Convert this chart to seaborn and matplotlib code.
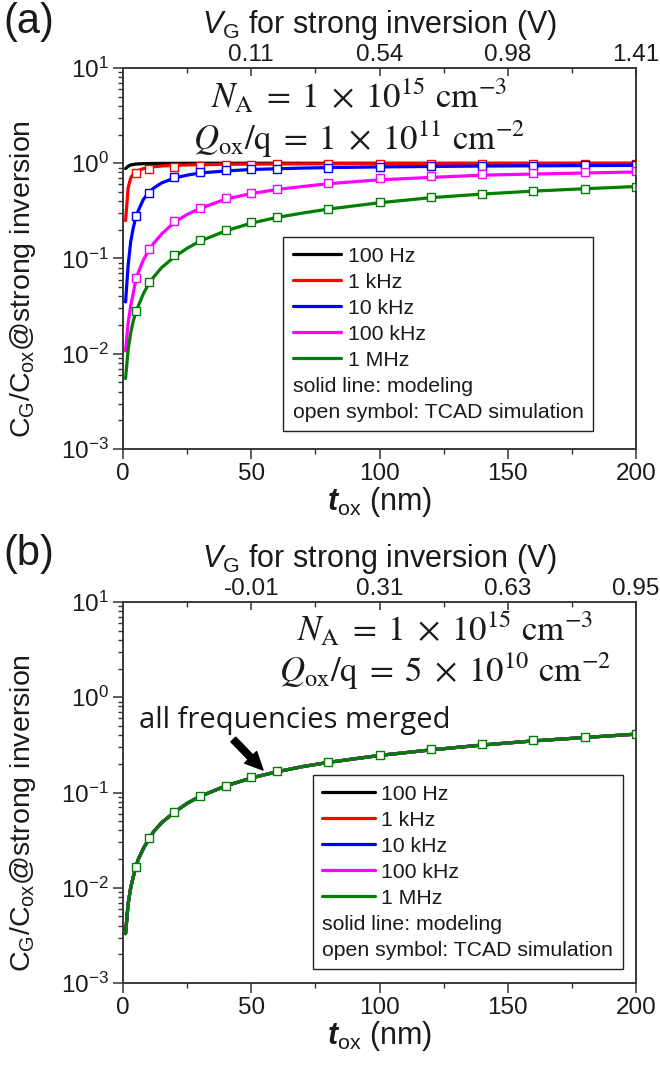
import numpy as np
import pandas as pd
import matplotlib
matplotlib.use("Agg")
import matplotlib.pyplot as plt
import seaborn as sns
from matplotlib.lines import Line2D
from matplotlib.ticker import FixedLocator, LogLocator, NullFormatter

sns.set_theme(style="ticks")
plt.rcParams.update({
    "font.family": ["Liberation Sans", "DejaVu Sans"],
    "mathtext.fontset": "custom",
    "mathtext.rm": "Liberation Sans",
    "mathtext.it": "Liberation Sans:italic",
    "mathtext.bf": "Liberation Sans:bold",
    "axes.unicode_minus": False,
})
try:
    plt.rcParams["mathtext.bfit"] = "Liberation Sans:italic:bold"
except Exception:
    pass

# ---------------- data ----------------
freq_labels = ["100 Hz", "1 kHz", "10 kHz", "100 kHz", "1 MHz"]
colors = ["#000000", "#ff0000", "#0000ff", "#ff00ff", "#008000"]

t_line = [1, 2, 3, 4, 5, 6, 8, 10, 12, 15, 20, 25, 30, 40, 50, 60, 70, 80,
          100, 120, 140, 160, 180, 200]
t_sim = [5, 10, 20, 30, 40, 50, 60, 80, 100, 120, 140, 160, 180, 200]

# panel (a): Qox/q = 1e11 cm^-2
a_line_100Hz = [0.88, 0.93, 0.96, 0.97, 0.98, 0.985, 0.99, 0.993, 0.995, 0.997, 0.998, 0.999, 1.0,
                1.0, 1.0, 1.0, 1.0, 1.0, 1.0, 1.0, 1.0, 1.0, 1.0, 1.0]
a_line_1kHz = [0.25, 0.55, 0.70, 0.77, 0.81, 0.84, 0.88, 0.90, 0.92, 0.935, 0.95, 0.96, 0.965,
               0.975, 0.98, 0.983, 0.985, 0.987, 0.99, 0.99, 0.992, 0.993, 0.994, 0.995]
a_line_10kHz = [0.035, 0.085, 0.15, 0.21, 0.27, 0.32, 0.42, 0.49, 0.55, 0.62, 0.70, 0.75, 0.79,
                0.83, 0.86, 0.875, 0.89, 0.90, 0.915, 0.925, 0.935, 0.94, 0.945, 0.95]
a_line_100kHz = [0.0107, 0.021, 0.032, 0.043, 0.060, 0.072, 0.097, 0.122, 0.145, 0.18, 0.24, 0.29,
                 0.335, 0.42, 0.48, 0.53, 0.57, 0.61, 0.67, 0.71, 0.75, 0.77, 0.79, 0.81]
a_line_1MHz = [0.0055, 0.011, 0.0165, 0.022, 0.027, 0.032, 0.043, 0.054, 0.064, 0.08, 0.104, 0.128,
               0.152, 0.195, 0.235, 0.27, 0.30, 0.33, 0.385, 0.435, 0.475, 0.51, 0.54, 0.57]

a_sim_1kHz = [0.79, 0.86, 0.91, 0.94, 0.96, 0.97, 0.98, 0.985, 0.99, 0.99, 0.99, 0.99, 0.99, 0.99]
a_sim_10kHz = [0.28, 0.49, 0.72, 0.80, 0.84, 0.86, 0.87, 0.90, 0.92, 0.93, 0.94, 0.945, 0.95, 0.95]
a_sim_100kHz = [0.063, 0.127, 0.25, 0.34, 0.43, 0.49, 0.54, 0.62, 0.70, 0.73, 0.77, 0.79, 0.80, 0.82]
a_sim_1MHz = [0.028, 0.057, 0.108, 0.158, 0.198, 0.24, 0.27, 0.33, 0.39, 0.44, 0.48, 0.51, 0.54, 0.57]

# panel (b): Qox/q = 5e10 cm^-2 (all frequencies merged)
b_line_all = [0.0033, 0.0068, 0.0100, 0.013, 0.0165, 0.020, 0.026, 0.032, 0.039, 0.048, 0.062,
              0.077, 0.091, 0.117, 0.142, 0.165, 0.187, 0.207, 0.245, 0.28, 0.315, 0.348,
              0.378, 0.41]
b_sim_1MHz = [0.0165, 0.033, 0.063, 0.091, 0.117, 0.145, 0.168, 0.21, 0.25, 0.285, 0.32, 0.355,
              0.38, 0.41]

x_major = [0, 50, 100, 150, 200]
x_minor = [25, 75, 125, 175]
top_ticks = [50, 100, 150, 200]
a_top_labels = ["0.11", "0.54", "0.98", "1.41"]
b_top_labels = ["-0.01", "0.31", "0.63", "0.95"]

a_lines = [a_line_100Hz, a_line_1kHz, a_line_10kHz, a_line_100kHz, a_line_1MHz]
a_sims = [None, a_sim_1kHz, a_sim_10kHz, a_sim_100kHz, a_sim_1MHz]
b_lines = [b_line_all] * 5
b_sims = [None, None, None, None, b_sim_1MHz]

# ---------------- figure ----------------
fig = plt.figure(figsize=(6.6, 10.7), dpi=100)
W, H = 660, 1070
def ax_rect(l, t, r, b):
    return [l / W, 1 - b / H, (r - l) / W, (b - t) / H]

ax_a = fig.add_axes(ax_rect(123, 68, 636, 449))
ax_b = fig.add_axes(ax_rect(123, 602, 636, 983))

spine_c = "#333333"
txt_c = "#1a1a1a"
LW = 2.3
TICK_FS = 17.5

def draw(ax, lines, sims, top_labels, leg_anchor, handlelen, htpad):
    z = 3
    for lab, c, yl, ys in zip(freq_labels, colors, lines, sims):
        df = pd.DataFrame({"t": t_line, "v": yl})
        sns.lineplot(data=df, x="t", y="v", ax=ax, color=c, lw=LW, zorder=z,
                     estimator=None, sort=False, legend=False)
        if ys is not None:
            ds = pd.DataFrame({"t": t_sim, "v": ys})
            sns.scatterplot(data=ds, x="t", y="v", ax=ax, marker="s", s=32,
                            facecolor="white", edgecolor=c, linewidth=1.0,
                            zorder=z + 0.5, legend=False)
        z += 1
    ax.set_yscale("log")
    ax.set_xlim(0, 200)
    ax.set_ylim(1e-3, 1e1)
    ax.xaxis.set_major_locator(FixedLocator(x_major))
    ax.xaxis.set_minor_locator(FixedLocator(x_minor))
    ax.yaxis.set_major_locator(LogLocator(base=10, numticks=10))
    ax.yaxis.set_minor_locator(LogLocator(base=10, subs=np.arange(2, 10), numticks=20))
    ax.yaxis.set_minor_formatter(NullFormatter())
    ax.tick_params(axis="both", which="major", direction="out", length=7, width=1.1,
                   labelsize=TICK_FS, pad=3, colors=spine_c, labelcolor=txt_c)
    ax.tick_params(axis="both", which="minor", direction="out", length=3.5, width=1.0,
                   colors=spine_c)
    for sp in ax.spines.values():
        sp.set_color(spine_c)
        sp.set_linewidth(1.1)
    ax.set_xlabel(r"$\mathbfit{t}_{\mathrm{ox}}$ (nm)", fontsize=22, color=txt_c, labelpad=0)
    ax.set_ylabel(r"C$_{\mathrm{G}}$/C$_{\mathrm{ox}}$@strong inversion", fontsize=20.5,
                  color=txt_c)
    ax.yaxis.set_label_coords(-0.165, 0.445)

    top = ax.twiny()
    top.set_xlim(ax.get_xlim())
    top.xaxis.set_major_locator(FixedLocator(top_ticks))
    top.xaxis.set_minor_locator(FixedLocator(x_minor))
    top.set_xticklabels(top_labels)
    top.tick_params(axis="x", which="major", direction="in", length=6, width=1.1,
                    labelsize=TICK_FS, pad=1.5, colors=spine_c, labelcolor=txt_c)
    top.tick_params(axis="x", which="minor", direction="in", length=3.5, width=1.0,
                    colors=spine_c)
    for sp in top.spines.values():
        sp.set_color(spine_c)
        sp.set_linewidth(1.1)
    top.set_xlabel(r"$V_{\mathrm{G}}$ for strong inversion (V)", fontsize=22,
                   color=txt_c, labelpad=8)

    handles = [Line2D([], [], color=c, lw=LW) for c in colors]
    handles += [Line2D([], [], color="none"), Line2D([], [], color="none")]
    labels = freq_labels + ["solid line: modeling", "open symbol: TCAD simulation"]
    leg = ax.legend(handles, labels, loc="upper left", bbox_to_anchor=leg_anchor,
                    borderaxespad=0, fontsize=15.3, frameon=True, fancybox=False,
                    edgecolor="#222222", framealpha=1, handlelength=handlelen,
                    handletextpad=htpad, labelspacing=0.33, borderpad=0.45)
    leg.get_frame().set_linewidth(1.0)
    for t in leg.get_texts():
        t.set_color(txt_c)
    # text-only entries start at the handle column
    col = leg._legend_handle_box.get_children()[0]
    for hp in col.get_children()[5:]:
        hp.get_children()[0].width = 0
        hp.sep = 0
    leg.set_zorder(20)
    return top

draw(ax_a, a_lines, a_sims, a_top_labels, (0.312, 0.556), 2.3, 0.3)
draw(ax_b, b_lines, b_sims, b_top_labels, (0.370, 0.546), 2.5, 0.25)

stix = dict(math_fontfamily="stix", fontsize=25, ha="center", va="center", color=txt_c)
nA = r"$N_{\mathrm{A}}\;=\;1\;\times\;10^{15}\ \mathrm{cm}^{-3}$"
ax_a.text(0.46, 0.926, nA, transform=ax_a.transAxes, **stix)
ax_a.text(0.46, 0.812, r"$Q_{\mathrm{ox}}/\mathrm{q}\;=\;1\;\times\;10^{11}\ \mathrm{cm}^{-2}$",
          transform=ax_a.transAxes, **stix)
ax_b.text(0.628, 0.929, nA, transform=ax_b.transAxes, **stix)
ax_b.text(0.628, 0.818, r"$Q_{\mathrm{ox}}/\mathrm{q}\;=\;5\;\times\;10^{10}\ \mathrm{cm}^{-2}$",
          transform=ax_b.transAxes, **stix)

ax_b.text(0.335, 0.69, "all frequencies merged", transform=ax_b.transAxes,
          family="Open Sans", fontsize=21, ha="center", va="center", color=txt_c)
ax_b.annotate("", xy=(54.6, 0.172), xytext=(43.0, 0.36), xycoords="data",
              arrowprops=dict(arrowstyle="simple,head_length=0.8,head_width=0.75,tail_width=0.3",
                              color="black", shrinkA=0, shrinkB=0, mutation_scale=16),
              annotation_clip=False, zorder=15)

fig.text(3 / W, 1 - 2 / H, "(a)", fontsize=30, ha="left", va="top", color=txt_c)
fig.text(3 / W, 1 - 534 / H, "(b)", fontsize=30, ha="left", va="top", color=txt_c)

fig.savefig("out.png", dpi=100)
